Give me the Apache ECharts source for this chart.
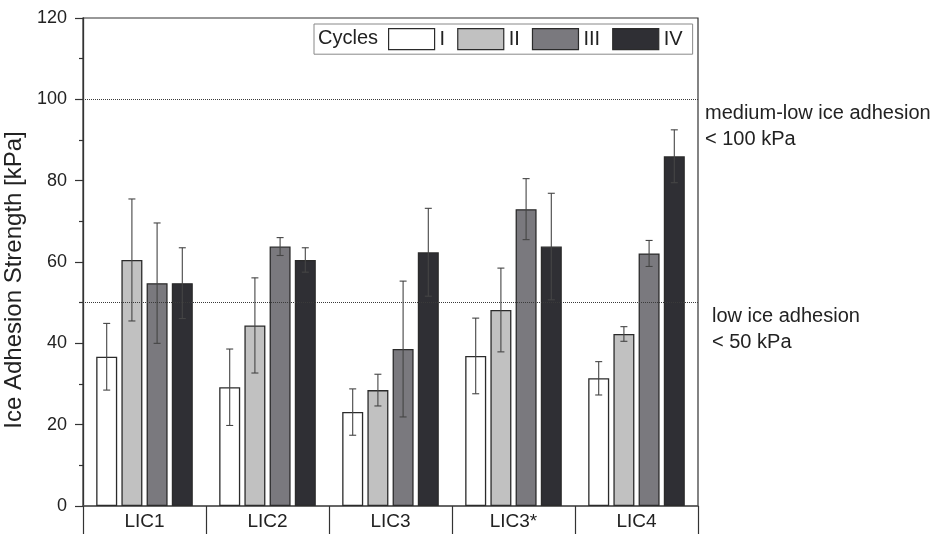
<!DOCTYPE html>
<html>
<head>
<meta charset="utf-8">
<script src="https://cdn.jsdelivr.net/npm/echarts@6/dist/echarts.min.js"></script>
<style>
  html, body { margin: 0; padding: 0; background: #fff; }
  #chart { width: 935px; height: 534px; }
</style>
</head>
<body>
<div id="chart"></div>
<script>
// Coatings and mean ice adhesion strength (kPa) after each icing cycle
const categories = ['LIC1', 'LIC2', 'LIC3', 'LIC3*', 'LIC4'];
const cycleNames = ['I', 'II', 'III', 'IV'];

const cycleI   = [36.7, 29.2, 23.1, 36.9, 31.4];
const cycleII  = [60.5, 44.4, 28.5, 48.2, 42.3];
const cycleIII = [54.8, 63.8, 38.6, 73.0, 62.1];
const cycleIV  = [54.8, 60.5, 62.4, 63.8, 86.0];

// Standard deviations
const errI   = [8.2, 9.4, 5.7, 9.3, 4.1];
const errII  = [15.0, 11.7, 3.9, 10.3, 1.8];
const errIII = [14.8, 2.2, 16.7, 7.5, 3.2];
const errIV  = [8.7, 3.0, 10.8, 13.1, 6.5];

// Threshold levels
const thresholds = [50, 100];
const thresholdText = ['low ice adhesion\n< 50 kPa', 'medium-low ice adhesion\n< 100 kPa'];

const yTicks = { min: 0, max: 120, interval: 20 };

const FONT = "'Liberation Sans', Arial, sans-serif";
const fills = ['#ffffff', '#c1c1c1', '#7a797e', '#2f2f34'];
const BAR_W = 21;
const BAR_GAP = 0.2;

const values = [cycleI, cycleII, cycleIII, cycleIV];
const errors = [errI, errII, errIII, errIV];

const chart = echarts.init(document.getElementById('chart'), null, { renderer: 'canvas' });

function errorSeries(s) {
  const data = values[s].map((v, i) => [i, v - errors[s][i], v + errors[s][i]]);
  const step = BAR_W * (1 + BAR_GAP);
  const offset = (s - (values.length - 1) / 2) * step;
  return {
    type: 'custom',
    name: cycleNames[s] + ' err',
    z: 5,
    silent: true,
    data: data,
    encode: { x: 0, y: [1, 2] },
    renderItem: function (params, api) {
      const lo = api.coord([api.value(0), api.value(1)]);
      const hi = api.coord([api.value(0), api.value(2)]);
      const x = lo[0] + offset;
      const cap = 3.5;
      const style = { stroke: '#454545', lineWidth: 1.1 };
      return {
        type: 'group',
        children: [
          { type: 'line', shape: { x1: x, y1: lo[1], x2: x, y2: hi[1] }, style: style },
          { type: 'line', shape: { x1: x - cap, y1: lo[1], x2: x + cap, y2: lo[1] }, style: style },
          { type: 'line', shape: { x1: x - cap, y1: hi[1], x2: x + cap, y2: hi[1] }, style: style }
        ]
      };
    }
  };
}

const barSeries = values.map((vals, s) => {
  const ser = {
    type: 'bar',
    name: cycleNames[s],
    data: vals,
    barWidth: BAR_W,
    barGap: (BAR_GAP * 100) + '%',
    itemStyle: { color: fills[s], borderColor: '#2b2b2b', borderWidth: 1.3 },
    emphasis: { disabled: true }
  };
  if (s === 0) {
    ser.markLine = {
      silent: true,
      symbol: 'none',
      z: 6,
      label: { show: false },
      lineStyle: { type: 'dotted', color: '#3a3a3a', width: 1 },
      data: thresholds.map(t => ({ yAxis: t }))
    };
  }
  return ser;
});

const option = {
  animation: false,
  backgroundColor: '#ffffff',
  textStyle: { fontFamily: FONT },
  grid: {
    left: 83, right: 237, top: 18, bottom: 28,
    containLabel: false,
    outerBoundsMode: 'none',
    show: true, borderColor: '#333', borderWidth: 1.2, backgroundColor: 'transparent'
  },
  legend: {
    data: cycleNames,
    left: 314, top: 24,
    padding: [4, 10, 4, 74],
    borderColor: '#888', borderWidth: 1,
    itemWidth: 46, itemHeight: 21, itemGap: 12,
    icon: 'rect',
    itemStyle: { borderColor: '#2b2b2b', borderWidth: 1.2 },
    textStyle: { fontSize: 20, color: '#222', fontFamily: FONT },
    selectedMode: false
  },
  xAxis: {
    type: 'category',
    data: categories,
    axisLine: { lineStyle: { color: '#555', width: 1.5 } },
    axisTick: { show: true, length: 28, interval: 0, lineStyle: { color: '#333', width: 1.2 } },
    axisLabel: { fontSize: 19, color: '#222', margin: 6, interval: 0, fontFamily: FONT },
    splitLine: { show: false }
  },
  yAxis: {
    type: 'value',
    min: yTicks.min, max: yTicks.max, interval: yTicks.interval,
    name: 'Ice Adhesion Strength [kPa]',
    nameLocation: 'middle',
    nameGap: 46,
    nameTextStyle: { fontSize: 24, color: '#222', fontFamily: FONT, padding: [0, 36, 0, 0] },
    axisLine: { show: true, lineStyle: { color: '#333', width: 1.3 } },
    axisTick: { show: true, length: 8, lineStyle: { color: '#333', width: 1.2 } },
    minorTick: { show: true, splitNumber: 2, length: 4, lineStyle: { color: '#333', width: 1.2 } },
    axisLabel: { fontSize: 18, color: '#222', margin: 16, fontFamily: FONT },
    splitLine: { show: false }
  },
  series: barSeries.concat(values.map((_, s) => errorSeries(s)))
};

chart.setOption(option);

// Legend caption and threshold annotations placed beside the plot
const graphics = [{
  type: 'text', left: 318, top: 28,
  style: { text: 'Cycles', font: '20px ' + FONT, fill: '#222' }
}];
const annX = [712, 705];
thresholds.forEach((t, i) => {
  const y = chart.convertToPixel({ yAxisIndex: 0 }, t);
  graphics.push({
    type: 'text', x: annX[i], y: y + 1,
    style: {
      text: thresholdText[i], font: '20px ' + FONT, fill: '#222',
      lineHeight: 26, verticalAlign: 'top', align: 'left'
    }
  });
});
chart.setOption({ graphic: graphics });
</script>
</body>
</html>
